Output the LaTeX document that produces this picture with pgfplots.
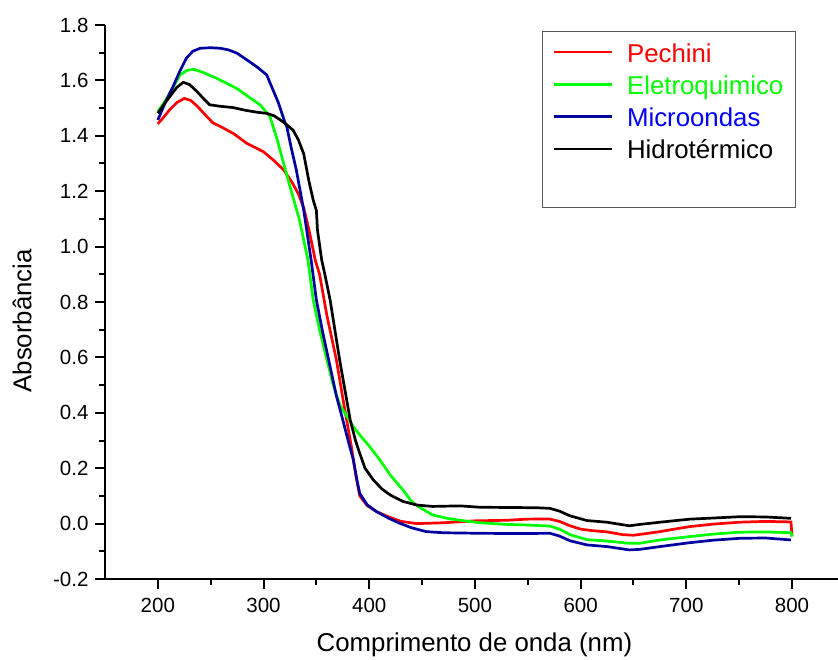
\documentclass[border=0pt]{standalone}
\usepackage{fontspec}
\setmainfont{Liberation Sans}
\usepackage{pgfplots}
\pgfplotsset{compat=1.18}
\definecolor{navyline}{RGB}{0,0,160}
\definecolor{pgreen}{RGB}{0,255,0}
\begin{document}
\begin{tikzpicture}
\begin{axis}[
  scale only axis, width=733pt, height=554pt,
  xmin=150, xmax=843.5, ymin=-0.2, ymax=1.8,
  axis x line*=bottom, axis y line*=left,
  axis line style={line width=2pt, -},
  xtick={200,300,400,500,600,700,800},
  ytick={-0.2,0,0.2,0.4,0.6,0.8,1.0,1.2,1.4,1.6,1.8},
  minor x tick num=1, minor y tick num=1,
  tick align=outside, major tick length=10pt, minor tick length=6pt,
  tick style={line width=2pt, black},
  ticklabel style={font=\fontsize{20.5}{24}\selectfont},
  /pgf/number format/assume math mode=true,
  yticklabel style={xshift=-3pt, /pgf/number format/.cd, fixed, fixed zerofill, precision=1},
  xticklabel style={yshift=-6pt, /pgf/number format/.cd, fixed, precision=0, 1000 sep={}},
  xlabel={Comprimento de onda (nm)}, ylabel={Absorbância},
  every axis x label/.style={at={(axis description cs:0.504,-0.131)}, anchor=base, font=\fontsize{25.8}{30}\selectfont},
  every axis y label/.style={at={(axis description cs:-0.113,0.466)}, rotate=90, anchor=center, font=\fontsize{25.8}{30}\selectfont},
  legend style={at={(axis description cs:0.596,0.989)}, anchor=north west, draw=black!65, line width=1pt,
    font=\fontsize{25.8}{31}\selectfont, inner xsep=10pt, inner ysep=9.5pt, row sep=4.3pt,
    nodes={inner sep=2pt, text height=19pt, text depth=5pt}},
  legend cell align=left,
  legend image code/.code={\draw[#1, line width=2.7pt] (0pt,3pt) -- (58pt,3pt); \path (70pt,3pt);},
]
\addplot[red, line width=2.7pt] coordinates {
(200,1.443)(205,1.465)(211,1.493)(218,1.520)(225,1.535)(231,1.528)(237,1.508)(245,1.475)(252,1.447)(262,1.428)(272,1.407)(284,1.373)(295,1.352)(300,1.342)(310,1.310)(319,1.277)(327,1.232)(333,1.190)(338,1.140)(343,1.060)(349,0.950)(353,0.900)(360,0.750)(369,0.590)(376,0.430)(383,0.280)(387,0.180)(391,0.100)(398,0.065)(407,0.043)(418,0.025)(430,0.008)(445,0.000)(470,0.003)(500,0.010)(530,0.012)(549,0.016)(570,0.017)(580,0.008)(590,-0.008)(600,-0.020)(610,-0.025)(625,-0.030)(640,-0.040)(650,-0.042)(660,-0.037)(675,-0.029)(690,-0.019)(703,-0.011)(725,-0.002)(750,0.005)(775,0.008)(799,0.006)(800,-0.045)
};
\addlegendentry{\textcolor{red}{Pechini}}
\addplot[pgreen, line width=2.7pt] coordinates {
(200,1.487)(206,1.520)(213,1.565)(221,1.620)(228,1.637)(234,1.640)(242,1.630)(256,1.607)(265,1.590)(275,1.570)(285,1.543)(297,1.511)(306,1.470)(313,1.385)(319,1.300)(325,1.217)(334,1.096)(342,0.952)(347,0.807)(353,0.700)(360,0.590)(366,0.500)(372,0.430)(379,0.386)(385,0.350)(391,0.320)(400,0.280)(410,0.230)(420,0.175)(432,0.121)(440,0.080)(448,0.058)(460,0.031)(475,0.018)(490,0.010)(505,0.003)(530,-0.003)(549,-0.005)(571,-0.009)(580,-0.020)(590,-0.040)(606,-0.058)(625,-0.063)(646,-0.071)(656,-0.071)(675,-0.059)(703,-0.047)(725,-0.038)(751,-0.031)(775,-0.030)(799,-0.033)(800,-0.047)
};
\addlegendentry{\textcolor{pgreen}{Eletroquimico}}
\addplot[navyline, line width=2.7pt] coordinates {
(200,1.457)(207,1.520)(215,1.583)(221,1.635)(227,1.680)(233,1.705)(240,1.716)(250,1.718)(259,1.716)(267,1.710)(275,1.698)(285,1.672)(294,1.648)(303,1.620)(309,1.565)(314,1.520)(320,1.451)(322,1.433)(326,1.360)(331,1.277)(338,1.132)(345,0.952)(350,0.807)(356,0.690)(363,0.566)(369,0.460)(375,0.374)(380,0.300)(385,0.230)(388,0.165)(391,0.109)(398,0.068)(407,0.043)(418,0.020)(429,0.001)(440,-0.015)(454,-0.029)(470,-0.033)(505,-0.035)(540,-0.036)(571,-0.035)(580,-0.045)(590,-0.062)(606,-0.077)(625,-0.083)(646,-0.095)(656,-0.093)(675,-0.083)(703,-0.069)(725,-0.060)(751,-0.053)(775,-0.052)(799,-0.059)
};
\addlegendentry{\textcolor{blue}{Microondas}}
\addplot[black, line width=2.7pt] coordinates {
(200,1.481)(206,1.515)(212,1.545)(218,1.575)(224,1.593)(230,1.585)(237,1.560)(243,1.535)(249,1.512)(258,1.507)(271,1.502)(283,1.492)(294,1.485)(303,1.481)(310,1.472)(316,1.457)(322,1.440)(328,1.420)(333,1.385)(338,1.335)(343,1.235)(347,1.168)(350,1.130)(351,1.060)(355,0.952)(358,0.900)(363,0.807)(372,0.591)(382,0.374)(387,0.300)(391,0.254)(396,0.200)(404,0.157)(412,0.125)(420,0.103)(432,0.080)(445,0.067)(460,0.062)(486,0.064)(505,0.059)(540,0.058)(560,0.057)(571,0.055)(580,0.045)(590,0.028)(606,0.011)(625,0.005)(646,-0.008)(656,-0.003)(675,0.005)(703,0.016)(725,0.020)(751,0.025)(775,0.024)(799,0.019)
};
\addlegendentry{Hidrotérmico}
\addlegendimage{empty legend}
\addlegendentry{}
\end{axis}
\pgfresetboundingbox
\useasboundingbox (-105pt,-80pt) rectangle (733pt,579pt);
\end{tikzpicture}
\end{document}
